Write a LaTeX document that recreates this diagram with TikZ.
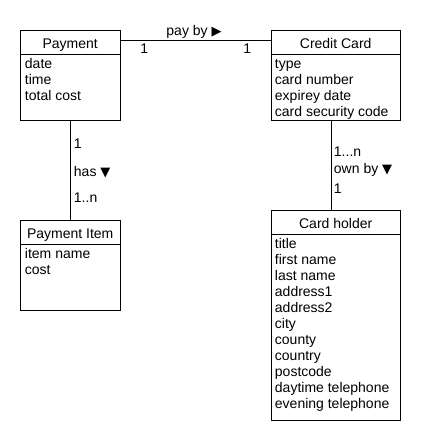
\documentclass[tikz,border=0pt]{standalone}
\usepackage{fontspec}
\setmainfont{Liberation Sans}
\newfontfamily\symfont{DejaVu Sans}
\newcommand{\tri}[1]{{\symfont\fontsize{13}{16}\selectfont #1}}
\begin{document}
\begin{tikzpicture}[x=1pt,y=1pt,line width=0.9pt,
  font=\fontsize{14}{16}\selectfont,
  classhdr/.style={draw, anchor=north west, inner xsep=0pt, inner ysep=0pt,
    text height=18pt, text depth=5.5pt, minimum width=#1},
  classbody/.style={draw, anchor=north west, inner sep=0pt, minimum width=#1},
  attrs/.style={anchor=north west, inner sep=0pt, align=left},
  lbl/.style={anchor=base west, inner sep=0pt}]
\fill[white] (0,0) rectangle (430,-440);
\useasboundingbox (0,0) rectangle (430,-440);

% Payment
\node[classhdr=99.5pt] (payh) at (20,-30) {Payment};
\node[classbody=99.5pt, minimum height=66pt] (payb) at (payh.south west) {};
\node[attrs] (paya) at (24.5,-56.6) {\strut date\\time\\total cost};

% Credit Card
\node[classhdr=129.5pt] (cch) at (270.5,-30) {Credit Card};
\node[classbody=129.5pt, minimum height=66pt] (ccb) at (cch.south west) {};
\node[attrs] (cca) at (274.5,-56.6) {\strut type\\card number\\expirey date\\card security code};

% Payment Item
\node[classhdr=99.5pt] (pih) at (20,-220) {Payment Item};
\node[classbody=99.5pt, minimum height=66pt] (pib) at (pih.south west) {};
\node[attrs] (pia) at (24.5,-246.6) {\strut item name\\cost};

% Card holder
\node[classhdr=129.5pt] (chh) at (270.5,-210) {Card holder};
\node[classbody=129.5pt, minimum height=186pt] (chb) at (chh.south west) {};
\node[attrs] (cha) at (274.5,-236.6) {\strut title\\first name\\last name\\address1\\address2\\city\\county\\country\\postcode\\daytime telephone\\evening telephone};

% connectors
\draw ([yshift=1.5pt]payh.east) -- ([yshift=1.5pt]cch.west);
\draw (payb.south) -- (pih.north);
\draw ([xshift=-4.5pt]ccb.south) -- ([xshift=-4.5pt]chh.north);

% labels
\node[lbl] (l1) at (166,-35.5) {pay by \tri{▶}};
\node[lbl] (l2) at (140,-53.3) {1};
\node[lbl] (l3) at (243,-53.3) {1};
\node[lbl] (l4) at (73.5,-148) {1};
\node[lbl] (l5) at (73.5,-176.5) {has \tri{▼}};
\node[lbl] (l6) at (73.5,-202) {1..n};
\node[lbl] (l7) at (333.5,-156) {1...n};
\node[lbl] (l8) at (333.5,-173.5) {own by \tri{▼}};
\node[lbl] (l9) at (333.5,-193.5) {1};
\end{tikzpicture}
\end{document}
